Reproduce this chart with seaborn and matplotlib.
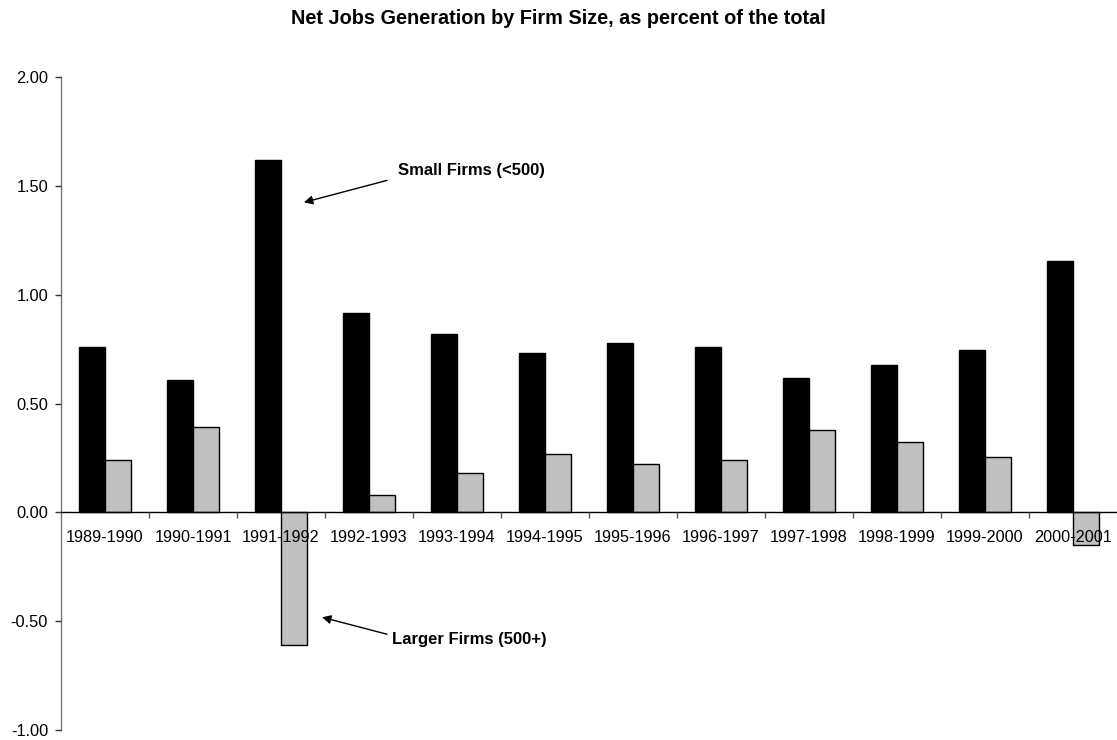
import pandas as pd
import numpy as np
import seaborn as sns
import matplotlib.pyplot as plt
from matplotlib.ticker import FixedLocator, FormatStrFormatter

# Veriler
periods = ["1989-1990", "1990-1991", "1991-1992", "1992-1993", "1993-1994", "1994-1995",
           "1995-1996", "1996-1997", "1997-1998", "1998-1999", "1999-2000", "2000-2001"]
small_firms = [0.76, 0.61, 1.62, 0.915, 0.82, 0.73, 0.78, 0.76, 0.615, 0.675, 0.745, 1.155]
large_firms = [0.24, 0.39, -0.61, 0.08, 0.18, 0.27, 0.22, 0.24, 0.38, 0.325, 0.255, -0.15]
groups = ["Small Firms (<500)", "Larger Firms (500+)"]

df = pd.DataFrame({
    "period": periods * 2,
    "value": small_firms + large_firms,
    "size": [groups[0]] * len(periods) + [groups[1]] * len(periods),
})

sns.set_style("white")
plt.rcParams["font.family"] = ["Liberation Sans", "DejaVu Sans"]
plt.rcParams["text.color"] = "black"
plt.rcParams["xtick.color"] = "black"
plt.rcParams["ytick.color"] = "black"

fig = plt.figure(figsize=(11.17, 7.40), dpi=100)
ax = fig.add_axes([61 / 1117, 1 - 730 / 740, 1056 / 1117, 653 / 740])

sns.barplot(data=df, x="period", y="value", hue="size", order=periods, hue_order=groups,
            palette=["black", "#c0c0c0"], width=0.6, edgecolor="black", linewidth=1,
            legend=False, ax=ax)

ax.set_xlim(-0.5, len(periods) - 0.5)
ax.set_ylim(-1, 2)
ax.set_yticks(np.arange(-1, 2.01, 0.5))
ax.yaxis.set_major_formatter(FormatStrFormatter("%.2f"))
ax.set_xlabel("")
ax.set_ylabel("")
ax.set_axisbelow(False)  # yazılar çubukların üstünde kalsın

# eksen çizgileri
for s in ["top", "right"]:
    ax.spines[s].set_visible(False)
ax.spines["bottom"].set_position(("data", 0))
ax.spines["bottom"].set_color("black")
ax.spines["bottom"].set_linewidth(1)
ax.spines["left"].set_color("#777777")
ax.spines["left"].set_linewidth(1)

# seaborn "white" stili tick çizgilerini kapatıyor, geri açıyoruz
ax.tick_params(axis="y", which="major", left=True, direction="out", length=4.3, width=1,
               color="#333333", labelsize=11.8, pad=5)
ax.tick_params(axis="x", which="major", bottom=False, length=0, labelsize=11.7, pad=13)
ax.xaxis.set_minor_locator(FixedLocator(np.arange(0.5, len(periods) - 0.5, 1)))
ax.tick_params(axis="x", which="minor", bottom=True, direction="out", length=4, width=1,
               color="#555555")

fig.suptitle("Net Jobs Generation by Firm Size, as percent of the total",
             fontsize=14.3, fontweight="bold", y=1 - 18 / 740, va="center")

# etiketler ve oklar
arrow = dict(arrowstyle="-|>", color="black", lw=1, mutation_scale=13, shrinkA=0, shrinkB=0)
ax.annotate("", xy=(2.26, 1.424), xytext=(3.205, 1.525), arrowprops=arrow)
ax.text(3.33, 1.571, groups[0], fontsize=12, fontweight="bold", va="center", ha="left")
ax.annotate("", xy=(2.466, -0.482), xytext=(3.205, -0.560), arrowprops=arrow)
ax.text(3.26, -0.583, groups[1], fontsize=12, fontweight="bold", va="center", ha="left")

plt.savefig("out.png", dpi=100)
